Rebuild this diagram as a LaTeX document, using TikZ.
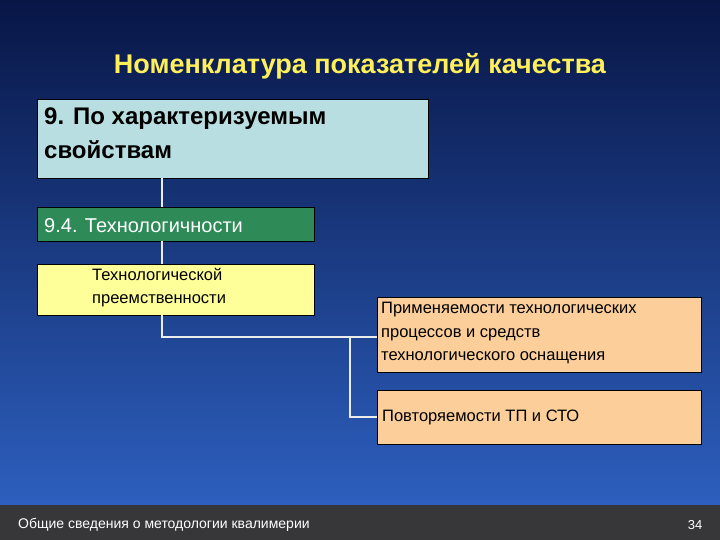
\documentclass[tikz,border=0pt]{standalone}
\usepackage{fontspec}
\setmainfont{Liberation Sans}
\definecolor{bgtop}{RGB}{8,22,70}
\definecolor{bgbot}{RGB}{45,95,190}
\definecolor{footc}{RGB}{55,55,58}
\definecolor{titc}{RGB}{255,240,90}
\definecolor{lblue}{RGB}{185,222,225}
\definecolor{gr}{RGB}{46,139,87}
\definecolor{yel}{RGB}{255,255,153}
\definecolor{ora}{RGB}{252,207,154}
\begin{document}
\begin{tikzpicture}[x=1pt,y=-1pt,
 box/.style={draw=black,line width=0.8pt,inner sep=0pt},
 conn/.style={draw=white!85!gray,line width=1.6pt}]
\useasboundingbox (0,0) rectangle (720,540);
\shade[top color=bgtop,bottom color=bgbot] (0,0) rectangle (720,505);
\fill[footc] (0,505) rectangle (720,540);
\node[text=titc,font=\bfseries\fontsize{27}{32}\selectfont] (title) at (360,66) {Номенклатура показателей качества};
\node[box,fill=lblue,minimum width=391,minimum height=79,anchor=north west] (t9) at (37,99) {};
\node[anchor=north west,align=left,inner sep=0pt,font=\bfseries\fontsize{24}{34}\selectfont] (t9t) at (44,108) {9. По характеризуемым\\свойствам};
\node[box,fill=gr,minimum width=277,minimum height=34,anchor=north west] (g) at (37,207) {};
\node[anchor=west,inner sep=0pt,text=white,font=\fontsize{20}{24}\selectfont] (gt) at (44,226) {9.4. Технологичности};
\node[box,fill=yel,minimum width=277,minimum height=51,anchor=north west] (y) at (37,264) {};
\node[anchor=north west,inner sep=0pt,align=left,font=\fontsize{16.5}{23.5}\selectfont] (yt) at (92,268) {Технологической\\преемственности};
\node[box,fill=ora,minimum width=324,minimum height=75,anchor=north west] (o1) at (377,297) {};
\node[anchor=north west,inner sep=0pt,align=left,font=\fontsize{16.5}{23.5}\selectfont] (o1t) at (381,302) {Применяемости технологических\\процессов и средств\\технологического оснащения};
\node[box,fill=ora,minimum width=324,minimum height=54,anchor=north west] (o2) at (377,390) {};
\node[anchor=west,inner sep=0pt,font=\fontsize{16.5}{20}\selectfont] (o2t) at (382,417) {Повторяемости ТП и СТО};
\coordinate (j1) at (162,337);
\coordinate (j2) at (350,337);
\coordinate (j3) at (350,417);
\draw[conn] (162,178) -- (162,207);
\draw[conn] (162,241) -- (162,264);
\draw[conn] (162,315) -- (j1) -- (j2) -- (o1.west |- j2);
\draw[conn] (j2) -- (j3) -- (o2.west |- j3);
\node[anchor=west,inner sep=0pt,text=white,font=\fontsize{14}{16}\selectfont] (foot) at (18,525) {Общие сведения о методологии квалимерии};
\node[text=white,font=\fontsize{13}{15}\selectfont] (pg) at (695,525) {34};
\end{tikzpicture}
\end{document}
